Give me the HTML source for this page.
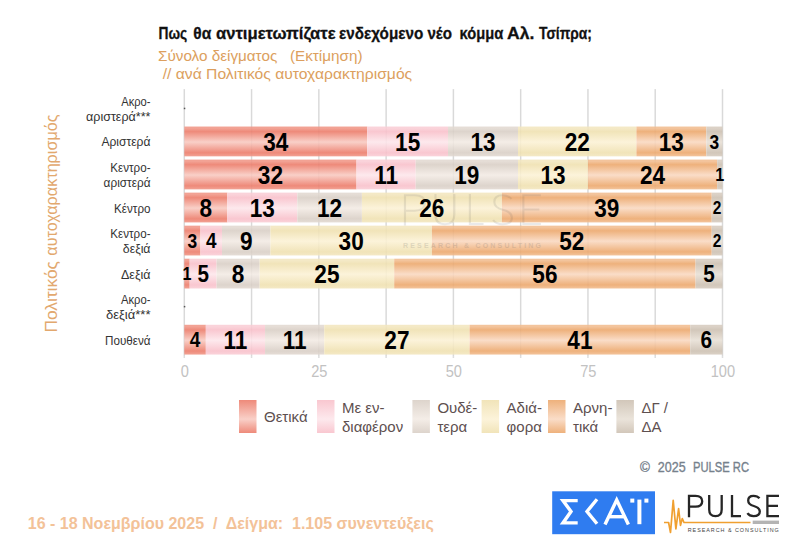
<!DOCTYPE html>
<html><head><meta charset="utf-8"><style>
html,body{margin:0;padding:0;background:#fff;}
body{width:795px;height:551px;overflow:hidden;position:relative;font-family:"Liberation Sans",sans-serif;}
svg{position:absolute;left:0;top:0;}
</style></head><body>
<svg width="795" height="551" viewBox="0 0 795 551" font-family="Liberation Sans, sans-serif">
<defs>
<linearGradient id="g0" x1="0" y1="0" x2="0" y2="1">
<stop offset="0" stop-color="#F2A294"/><stop offset="0.06" stop-color="#F2A294"/>
<stop offset="0.17" stop-color="#EE8A7A"/><stop offset="0.52" stop-color="#F9D0C8"/>
<stop offset="0.88" stop-color="#EE8A7A"/><stop offset="1" stop-color="#F2A294"/></linearGradient>
<linearGradient id="g1" x1="0" y1="0" x2="0" y2="1">
<stop offset="0" stop-color="#FAD3DA"/><stop offset="0.06" stop-color="#FAD3DA"/>
<stop offset="0.17" stop-color="#F9C7D0"/><stop offset="0.52" stop-color="#FDE9ED"/>
<stop offset="0.88" stop-color="#F9C7D0"/><stop offset="1" stop-color="#FAD3DA"/></linearGradient>
<linearGradient id="g2" x1="0" y1="0" x2="0" y2="1">
<stop offset="0" stop-color="#E5DDD6"/><stop offset="0.06" stop-color="#E5DDD6"/>
<stop offset="0.17" stop-color="#DDD4CC"/><stop offset="0.52" stop-color="#F4EDE7"/>
<stop offset="0.88" stop-color="#DDD4CC"/><stop offset="1" stop-color="#E5DDD6"/></linearGradient>
<linearGradient id="g3" x1="0" y1="0" x2="0" y2="1">
<stop offset="0" stop-color="#F4E9C6"/><stop offset="0.06" stop-color="#F4E9C6"/>
<stop offset="0.17" stop-color="#F1E4B9"/><stop offset="0.52" stop-color="#FCF3DA"/>
<stop offset="0.88" stop-color="#F1E4B9"/><stop offset="1" stop-color="#F4E9C6"/></linearGradient>
<linearGradient id="g4" x1="0" y1="0" x2="0" y2="1">
<stop offset="0" stop-color="#F3C49C"/><stop offset="0.06" stop-color="#F3C49C"/>
<stop offset="0.17" stop-color="#EEB17C"/><stop offset="0.52" stop-color="#FADDC8"/>
<stop offset="0.88" stop-color="#EEB17C"/><stop offset="1" stop-color="#F3C49C"/></linearGradient>
<linearGradient id="g5" x1="0" y1="0" x2="0" y2="1">
<stop offset="0" stop-color="#DBD1C6"/><stop offset="0.06" stop-color="#DBD1C6"/>
<stop offset="0.17" stop-color="#D2C7BA"/><stop offset="0.52" stop-color="#EAE3DA"/>
<stop offset="0.88" stop-color="#D2C7BA"/><stop offset="1" stop-color="#DBD1C6"/></linearGradient>
<linearGradient id="lg0" x1="0" y1="0" x2="0" y2="1"><stop offset="0" stop-color="#EE8A7A"/><stop offset="0.58" stop-color="#F9D0C8"/><stop offset="1" stop-color="#EE8A7A"/></linearGradient>
<linearGradient id="lg1" x1="0" y1="0" x2="0" y2="1"><stop offset="0" stop-color="#F9C7D0"/><stop offset="0.58" stop-color="#FDE9ED"/><stop offset="1" stop-color="#F9C7D0"/></linearGradient>
<linearGradient id="lg2" x1="0" y1="0" x2="0" y2="1"><stop offset="0" stop-color="#DDD4CC"/><stop offset="0.58" stop-color="#F4EDE7"/><stop offset="1" stop-color="#DDD4CC"/></linearGradient>
<linearGradient id="lg3" x1="0" y1="0" x2="0" y2="1"><stop offset="0" stop-color="#F1E4B9"/><stop offset="0.58" stop-color="#FCF3DA"/><stop offset="1" stop-color="#F1E4B9"/></linearGradient>
<linearGradient id="lg4" x1="0" y1="0" x2="0" y2="1"><stop offset="0" stop-color="#EEB17C"/><stop offset="0.58" stop-color="#FADDC8"/><stop offset="1" stop-color="#EEB17C"/></linearGradient>
<linearGradient id="lg5" x1="0" y1="0" x2="0" y2="1"><stop offset="0" stop-color="#D2C7BA"/><stop offset="0.58" stop-color="#EAE3DA"/><stop offset="1" stop-color="#D2C7BA"/></linearGradient>
</defs>
<g font-size="17" font-weight="bold" fill="#111" stroke="#111" stroke-width="0.3"><text x="158.6" y="39.3" textLength="28.68" lengthAdjust="spacingAndGlyphs">Πως</text><text x="193.3" y="39.3" textLength="17.94" lengthAdjust="spacingAndGlyphs">θα</text><text x="216.0" y="39.3" textLength="119.61" lengthAdjust="spacingAndGlyphs">αντιμετωπίζατε</text><text x="339.1" y="39.3" textLength="84.17" lengthAdjust="spacingAndGlyphs">ενδεχόμενο</text><text x="427.4" y="39.3" textLength="24.51" lengthAdjust="spacingAndGlyphs">νέο</text><text x="459.6" y="39.3" textLength="43.76" lengthAdjust="spacingAndGlyphs">κόμμα</text><text x="507.0" y="39.3" textLength="27.35" lengthAdjust="spacingAndGlyphs">Αλ.</text><text x="539.0" y="39.3" textLength="52.92" lengthAdjust="spacingAndGlyphs">Τσίπρα;</text></g>
<text x="158" y="60.7" font-size="15" fill="#DC9F5E" textLength="204.5" lengthAdjust="spacingAndGlyphs" xml:space="preserve">Σύνολο δείγματος   (Εκτίμηση)</text>
<text x="162.7" y="78.5" font-size="15" fill="#DC9F5E" textLength="249.5" lengthAdjust="spacingAndGlyphs">// ανά Πολιτικός αυτοχαρακτηρισμός</text>
<g font-size="17" fill="#E2A86E"><text transform="translate(57,332.6) rotate(-90)" textLength="71.5" lengthAdjust="spacingAndGlyphs">Πολιτικός</text><text transform="translate(57,255.7) rotate(-90)" textLength="141.2" lengthAdjust="spacingAndGlyphs">αυτοχαρακτηρισμός</text></g>
<line x1="184.30" y1="89" x2="184.30" y2="358" stroke="#DEDEDE" stroke-width="1.5"/>
<line x1="251.57" y1="89" x2="251.57" y2="358" stroke="#DEDEDE" stroke-width="1.5"/>
<line x1="318.85" y1="89" x2="318.85" y2="358" stroke="#DEDEDE" stroke-width="1.5"/>
<line x1="386.12" y1="89" x2="386.12" y2="358" stroke="#DEDEDE" stroke-width="1.5"/>
<line x1="453.40" y1="89" x2="453.40" y2="358" stroke="#DEDEDE" stroke-width="1.5"/>
<line x1="520.67" y1="89" x2="520.67" y2="358" stroke="#DEDEDE" stroke-width="1.5"/>
<line x1="587.95" y1="89" x2="587.95" y2="358" stroke="#DEDEDE" stroke-width="1.5"/>
<line x1="655.22" y1="89" x2="655.22" y2="358" stroke="#DEDEDE" stroke-width="1.5"/>
<line x1="722.50" y1="89" x2="722.50" y2="358" stroke="#DEDEDE" stroke-width="1.5"/>
<rect x="184.30" y="126.54" width="182.99" height="29.8" fill="url(#g0)"/>
<rect x="367.29" y="126.54" width="80.73" height="29.8" fill="url(#g1)"/>
<rect x="448.02" y="126.54" width="69.97" height="29.8" fill="url(#g2)"/>
<rect x="517.98" y="126.54" width="118.40" height="29.8" fill="url(#g3)"/>
<rect x="636.39" y="126.54" width="69.97" height="29.8" fill="url(#g4)"/>
<rect x="706.35" y="126.54" width="16.15" height="29.8" fill="url(#g5)"/>
<rect x="184.30" y="159.58" width="172.22" height="29.8" fill="url(#g0)"/>
<rect x="356.52" y="159.58" width="59.20" height="29.8" fill="url(#g1)"/>
<rect x="415.73" y="159.58" width="102.26" height="29.8" fill="url(#g2)"/>
<rect x="517.98" y="159.58" width="69.97" height="29.8" fill="url(#g3)"/>
<rect x="587.95" y="159.58" width="129.17" height="29.8" fill="url(#g4)"/>
<rect x="717.12" y="159.58" width="5.38" height="29.8" fill="url(#g5)"/>
<rect x="184.30" y="192.62" width="43.06" height="29.8" fill="url(#g0)"/>
<rect x="227.36" y="192.62" width="69.97" height="29.8" fill="url(#g1)"/>
<rect x="297.32" y="192.62" width="64.58" height="29.8" fill="url(#g2)"/>
<rect x="361.91" y="192.62" width="139.93" height="29.8" fill="url(#g3)"/>
<rect x="501.84" y="192.62" width="209.90" height="29.8" fill="url(#g4)"/>
<rect x="711.74" y="192.62" width="10.76" height="29.8" fill="url(#g5)"/>
<rect x="184.30" y="225.66" width="16.15" height="29.8" fill="url(#g0)"/>
<rect x="200.45" y="225.66" width="21.53" height="29.8" fill="url(#g1)"/>
<rect x="221.97" y="225.66" width="48.44" height="29.8" fill="url(#g2)"/>
<rect x="270.41" y="225.66" width="161.46" height="29.8" fill="url(#g3)"/>
<rect x="431.87" y="225.66" width="279.86" height="29.8" fill="url(#g4)"/>
<rect x="711.74" y="225.66" width="10.76" height="29.8" fill="url(#g5)"/>
<rect x="184.30" y="258.70" width="5.38" height="29.8" fill="url(#g0)"/>
<rect x="189.68" y="258.70" width="26.91" height="29.8" fill="url(#g1)"/>
<rect x="216.59" y="258.70" width="43.06" height="29.8" fill="url(#g2)"/>
<rect x="259.65" y="258.70" width="134.55" height="29.8" fill="url(#g3)"/>
<rect x="394.20" y="258.70" width="301.39" height="29.8" fill="url(#g4)"/>
<rect x="695.59" y="258.70" width="26.91" height="29.8" fill="url(#g5)"/>
<rect x="184.30" y="324.78" width="21.53" height="29.8" fill="url(#g0)"/>
<rect x="205.83" y="324.78" width="59.20" height="29.8" fill="url(#g1)"/>
<rect x="265.03" y="324.78" width="59.20" height="29.8" fill="url(#g2)"/>
<rect x="324.23" y="324.78" width="145.31" height="29.8" fill="url(#g3)"/>
<rect x="469.55" y="324.78" width="220.66" height="29.8" fill="url(#g4)"/>
<rect x="690.21" y="324.78" width="32.29" height="29.8" fill="url(#g5)"/>
<g opacity="0.12" transform="translate(403,193.8) scale(1.51,1.42) translate(-687.7,-494.8)" fill="none" stroke="#555" stroke-width="1.4"><path d="M689 517.2 V495.9 H695.5 Q702.2 495.9 702.2 501.3 Q702.2 506.7 695.5 506.7 H689"/><path d="M709.2 495 V509.5 Q709.2 516.2 715.5 516.2 Q721.7 516.2 721.7 509.5 V495"/><path d="M732 495 V516.1 H741"/><path d="M759.5 498.3 Q757.5 495.8 753.5 495.8 Q748.2 495.8 748.2 500.5 Q748.2 504.5 753.8 506 Q759.8 507.6 759.8 511.6 Q759.8 516.2 753.6 516.2 Q749.4 516.2 747.4 513.2"/><path d="M779 495.9 H767.4 V516.1 H779 M767.4 505.8 H778"/></g>
<text x="403" y="248" font-size="7" font-weight="bold" fill="#555" opacity="0.16" textLength="138" lengthAdjust="spacing">RESEARCH &amp; CONSULTING</text>
<line x1="184.30" y1="90" x2="184.30" y2="356" stroke="#000" stroke-opacity="0.018" stroke-width="1.4"/>
<line x1="251.57" y1="90" x2="251.57" y2="356" stroke="#000" stroke-opacity="0.018" stroke-width="1.4"/>
<line x1="318.85" y1="90" x2="318.85" y2="356" stroke="#000" stroke-opacity="0.018" stroke-width="1.4"/>
<line x1="386.12" y1="90" x2="386.12" y2="356" stroke="#000" stroke-opacity="0.018" stroke-width="1.4"/>
<line x1="453.40" y1="90" x2="453.40" y2="356" stroke="#000" stroke-opacity="0.018" stroke-width="1.4"/>
<line x1="520.67" y1="90" x2="520.67" y2="356" stroke="#000" stroke-opacity="0.018" stroke-width="1.4"/>
<line x1="587.95" y1="90" x2="587.95" y2="356" stroke="#000" stroke-opacity="0.018" stroke-width="1.4"/>
<line x1="655.22" y1="90" x2="655.22" y2="356" stroke="#000" stroke-opacity="0.018" stroke-width="1.4"/>
<line x1="722.50" y1="90" x2="722.50" y2="356" stroke="#000" stroke-opacity="0.018" stroke-width="1.4"/>
<text transform="translate(275.79,150.74) scale(0.86,1)" font-size="26.27" font-weight="bold" fill="#000" text-anchor="middle">34</text>
<text transform="translate(407.65,150.74) scale(0.86,1)" font-size="26.27" font-weight="bold" fill="#000" text-anchor="middle">15</text>
<text transform="translate(483.00,150.74) scale(0.86,1)" font-size="26.27" font-weight="bold" fill="#000" text-anchor="middle">13</text>
<text transform="translate(577.19,150.74) scale(0.86,1)" font-size="26.27" font-weight="bold" fill="#000" text-anchor="middle">22</text>
<text transform="translate(671.37,150.74) scale(0.86,1)" font-size="26.27" font-weight="bold" fill="#000" text-anchor="middle">13</text>
<text transform="translate(714.43,148.59) scale(0.86,1)" font-size="20.20" font-weight="bold" fill="#000" text-anchor="middle">3</text>
<text transform="translate(270.41,183.78) scale(0.86,1)" font-size="26.27" font-weight="bold" fill="#000" text-anchor="middle">32</text>
<text transform="translate(386.12,183.78) scale(0.86,1)" font-size="26.27" font-weight="bold" fill="#000" text-anchor="middle">11</text>
<text transform="translate(466.86,183.78) scale(0.86,1)" font-size="26.27" font-weight="bold" fill="#000" text-anchor="middle">19</text>
<text transform="translate(552.97,183.78) scale(0.86,1)" font-size="26.27" font-weight="bold" fill="#000" text-anchor="middle">13</text>
<text transform="translate(652.53,183.78) scale(0.86,1)" font-size="26.27" font-weight="bold" fill="#000" text-anchor="middle">24</text>
<text transform="translate(719.81,181.13) scale(0.86,1)" font-size="18.79" font-weight="bold" fill="#000" text-anchor="middle">1</text>
<text transform="translate(205.83,216.82) scale(0.86,1)" font-size="26.27" font-weight="bold" fill="#000" text-anchor="middle">8</text>
<text transform="translate(262.34,216.82) scale(0.86,1)" font-size="26.27" font-weight="bold" fill="#000" text-anchor="middle">13</text>
<text transform="translate(329.61,216.82) scale(0.86,1)" font-size="26.27" font-weight="bold" fill="#000" text-anchor="middle">12</text>
<text transform="translate(431.87,216.82) scale(0.86,1)" font-size="26.27" font-weight="bold" fill="#000" text-anchor="middle">26</text>
<text transform="translate(606.79,216.82) scale(0.86,1)" font-size="26.27" font-weight="bold" fill="#000" text-anchor="middle">39</text>
<text transform="translate(717.12,213.92) scale(0.86,1)" font-size="18.08" font-weight="bold" fill="#000" text-anchor="middle">2</text>
<text transform="translate(192.37,247.71) scale(0.86,1)" font-size="20.20" font-weight="bold" fill="#000" text-anchor="middle">3</text>
<text transform="translate(211.21,248.36) scale(0.86,1)" font-size="22.03" font-weight="bold" fill="#000" text-anchor="middle">4</text>
<text transform="translate(246.19,249.86) scale(0.86,1)" font-size="26.27" font-weight="bold" fill="#000" text-anchor="middle">9</text>
<text transform="translate(351.14,249.86) scale(0.86,1)" font-size="26.27" font-weight="bold" fill="#000" text-anchor="middle">30</text>
<text transform="translate(571.80,249.86) scale(0.86,1)" font-size="26.27" font-weight="bold" fill="#000" text-anchor="middle">52</text>
<text transform="translate(717.12,246.96) scale(0.86,1)" font-size="18.08" font-weight="bold" fill="#000" text-anchor="middle">2</text>
<text transform="translate(186.99,280.25) scale(0.86,1)" font-size="18.79" font-weight="bold" fill="#000" text-anchor="middle">1</text>
<text transform="translate(203.14,282.10) scale(0.86,1)" font-size="24.01" font-weight="bold" fill="#000" text-anchor="middle">5</text>
<text transform="translate(238.12,282.90) scale(0.86,1)" font-size="26.27" font-weight="bold" fill="#000" text-anchor="middle">8</text>
<text transform="translate(326.92,282.90) scale(0.86,1)" font-size="26.27" font-weight="bold" fill="#000" text-anchor="middle">25</text>
<text transform="translate(544.89,282.90) scale(0.86,1)" font-size="26.27" font-weight="bold" fill="#000" text-anchor="middle">56</text>
<text transform="translate(709.04,282.10) scale(0.86,1)" font-size="24.01" font-weight="bold" fill="#000" text-anchor="middle">5</text>
<text transform="translate(195.06,347.48) scale(0.86,1)" font-size="22.03" font-weight="bold" fill="#000" text-anchor="middle">4</text>
<text transform="translate(235.43,348.98) scale(0.86,1)" font-size="26.27" font-weight="bold" fill="#000" text-anchor="middle">11</text>
<text transform="translate(294.63,348.98) scale(0.86,1)" font-size="26.27" font-weight="bold" fill="#000" text-anchor="middle">11</text>
<text transform="translate(396.89,348.98) scale(0.86,1)" font-size="26.27" font-weight="bold" fill="#000" text-anchor="middle">27</text>
<text transform="translate(579.88,348.98) scale(0.86,1)" font-size="26.27" font-weight="bold" fill="#000" text-anchor="middle">41</text>
<text transform="translate(706.35,348.23) scale(0.86,1)" font-size="24.15" font-weight="bold" fill="#000" text-anchor="middle">6</text>
<rect x="183.8" y="107.7" width="1.5" height="1.5" fill="#555"/>
<rect x="183.8" y="305.9" width="1.5" height="1.5" fill="#555"/>
<text x="121.2" y="105.9" font-size="12.2" fill="#333" textLength="29.3" lengthAdjust="spacingAndGlyphs">Ακρο-</text>
<text x="86" y="120.7" font-size="12.2" fill="#333" textLength="64.5" lengthAdjust="spacingAndGlyphs">αριστερά***</text>
<text x="101.4" y="146.4" font-size="12.2" fill="#333" textLength="49.1" lengthAdjust="spacingAndGlyphs">Αριστερά</text>
<text x="110.3" y="172.0" font-size="12.2" fill="#333" textLength="40.2" lengthAdjust="spacingAndGlyphs">Κεντρο-</text>
<text x="103.6" y="186.8" font-size="12.2" fill="#333" textLength="46.9" lengthAdjust="spacingAndGlyphs">αριστερά</text>
<text x="114.1" y="212.5" font-size="12.2" fill="#333" textLength="36.4" lengthAdjust="spacingAndGlyphs">Κέντρο</text>
<text x="110.3" y="238.1" font-size="12.2" fill="#333" textLength="40.2" lengthAdjust="spacingAndGlyphs">Κεντρο-</text>
<text x="122.8" y="252.9" font-size="12.2" fill="#333" textLength="27.7" lengthAdjust="spacingAndGlyphs">δεξιά</text>
<text x="121" y="278.6" font-size="12.2" fill="#333" textLength="29.5" lengthAdjust="spacingAndGlyphs">Δεξιά</text>
<text x="121" y="304.1" font-size="12.2" fill="#333" textLength="29.5" lengthAdjust="spacingAndGlyphs">Ακρο-</text>
<text x="106" y="318.9" font-size="12.2" fill="#333" textLength="44.5" lengthAdjust="spacingAndGlyphs">δεξιά***</text>
<text x="105" y="344.7" font-size="12.2" fill="#333" textLength="45.5" lengthAdjust="spacingAndGlyphs">Πουθενά</text>
<text transform="translate(184.70,377) scale(0.88,1)" font-size="16.6" fill="#C2C2C2" text-anchor="middle">0</text>
<text transform="translate(319.25,377) scale(0.88,1)" font-size="16.6" fill="#C2C2C2" text-anchor="middle">25</text>
<text transform="translate(453.80,377) scale(0.88,1)" font-size="16.6" fill="#C2C2C2" text-anchor="middle">50</text>
<text transform="translate(588.35,377) scale(0.88,1)" font-size="16.6" fill="#C2C2C2" text-anchor="middle">75</text>
<text transform="translate(722.90,377) scale(0.88,1)" font-size="16.6" fill="#C2C2C2" text-anchor="middle">100</text>
<rect x="239" y="400" width="17.5" height="33" fill="url(#lg0)"/>
<text x="264" y="422" font-size="15" fill="#5E5050">Θετικά</text>
<rect x="317" y="400" width="17.5" height="33" fill="url(#lg1)"/>
<text x="342" y="412.6" font-size="15" fill="#5E5050">Με εν-</text>
<text x="342" y="431.5" font-size="15" fill="#5E5050">διαφέρον</text>
<rect x="412.4" y="400" width="17.5" height="33" fill="url(#lg2)"/>
<text x="437.4" y="412.6" font-size="15" fill="#5E5050">Ουδέ-</text>
<text x="437.4" y="431.5" font-size="15" fill="#5E5050">τερα</text>
<rect x="481.6" y="400" width="17.5" height="33" fill="url(#lg3)"/>
<text x="506.6" y="412.6" font-size="15" fill="#5E5050">Αδιά-</text>
<text x="506.6" y="431.5" font-size="15" fill="#5E5050">φορα</text>
<rect x="548" y="400" width="17.5" height="33" fill="url(#lg4)"/>
<text x="573" y="412.6" font-size="15" fill="#5E5050">Αρνη-</text>
<text x="573" y="431.5" font-size="15" fill="#5E5050">τικά</text>
<rect x="616.4" y="400" width="17.5" height="33" fill="url(#lg5)"/>
<text x="641.4" y="412.6" font-size="15" fill="#5E5050">ΔΓ /</text>
<text x="641.4" y="431.5" font-size="15" fill="#5E5050">ΔΑ</text>
<g font-size="14" fill="#76818C" stroke="#76818C" stroke-width="0.35"><text x="640.1" y="472" textLength="9.9" lengthAdjust="spacingAndGlyphs">©</text><text x="657.8" y="472" textLength="27.8" lengthAdjust="spacingAndGlyphs">2025</text><text x="693" y="472" textLength="56" lengthAdjust="spacingAndGlyphs">PULSE RC</text></g>
<text x="27.75" y="528.8" font-size="16.5" font-weight="bold" fill="#F3C298" textLength="406" lengthAdjust="spacingAndGlyphs" xml:space="preserve">16 - 18 Νοεμβρίου 2025  /  Δείγμα:  1.105 συνεντεύξεις</text>
<rect x="552.2" y="491.3" width="102.8" height="42.9" fill="#2F7CF0"/>
<g fill="none" stroke="#fff" stroke-width="3.4" stroke-linejoin="miter" stroke-linecap="butt"><path d="M577.7 500.6 H563 L571 511.5 L563 522.9 H577.7"/><path d="M597 499.2 L587 511.5 L597 523.8"/><path d="M605 524.5 L616.7 500 L628.4 524.5"/><path d="M609.5 516.7 H624"/></g>
<g fill="#fff"><rect x="637.4" y="499.6" width="4" height="24.6"/><rect x="630.3" y="498.6" width="4" height="4"/><rect x="644.4" y="498.6" width="4" height="4"/></g>
<g fill="none" stroke="#262626" stroke-width="2.3"><path d="M689 517.2 V495.9 H695.5 Q702.2 495.9 702.2 501.3 Q702.2 506.7 695.5 506.7 H689"/><path d="M709.2 495 V509.5 Q709.2 516.2 715.5 516.2 Q721.7 516.2 721.7 509.5 V495"/><path d="M732 495 V516.1 H741"/><path d="M759.5 498.3 Q757.5 495.8 753.5 495.8 Q748.2 495.8 748.2 500.5 Q748.2 504.5 753.8 506 Q759.8 507.6 759.8 511.6 Q759.8 516.2 753.6 516.2 Q749.4 516.2 747.4 513.2"/><path d="M779 495.9 H767.4 V516.1 H779 M767.4 505.8 H778"/></g>
<path d="M664 522.5 H668.6 L670.5 532.5 L673.2 500.3 L675.9 528.9 L678.6 508.5 L680.5 525.3 L682.3 518.5 L684 522.5 H750.5" fill="none" stroke="#F0A030" stroke-width="1.7" stroke-linejoin="round"/>
<rect x="752.7" y="520.6" width="26.3" height="3.4" fill="#B4B4B4"/>
<text x="687.7" y="531.9" font-size="5.4" fill="#444" textLength="91" lengthAdjust="spacing">RESEARCH &amp; CONSULTING</text>
</svg>
</body></html>
